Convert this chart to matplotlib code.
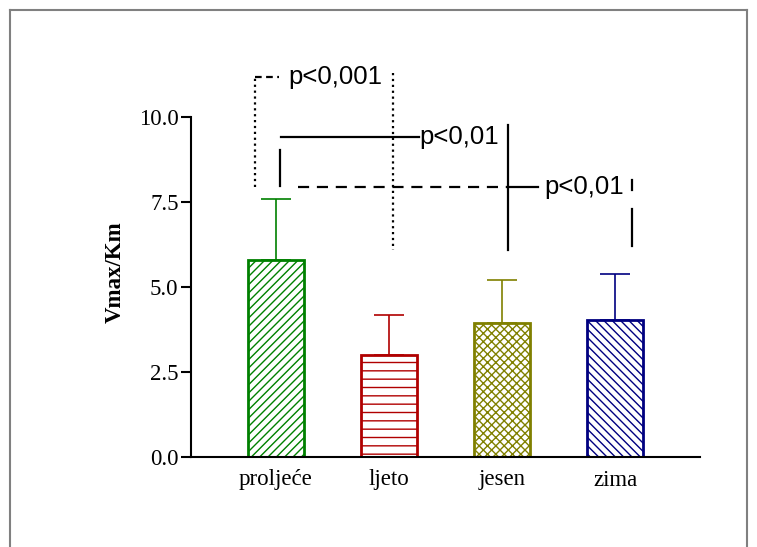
import matplotlib
matplotlib.use("Agg")
import matplotlib.pyplot as plt
from matplotlib.lines import Line2D

categories = ["proljeće", "ljeto", "jesen", "zima"]
means = [5.79, 3.0, 3.95, 4.03]
sd = [1.80, 1.18, 1.27, 1.35]
colors = ["#008000", "#b00000", "#808000", "#000080"]
hatches = ["////", "--", "xxxx", "\\\\\\\\"]
yticks = [0.0, 2.5, 5.0, 7.5, 10.0]
ytick_labels = ["0.0", "2.5", "5.0", "7.5", "10.0"]
ylabel = "Vmax/Km"
p_labels = ["p<0,001", "p<0,01", "p<0,01"]

plt.rcParams["hatch.linewidth"] = 1.0
fig = plt.figure(figsize=(7.57, 5.47), dpi=100)
ax = fig.add_axes([191/757, 90/547, (700-191)/757, 340/547])

x = list(range(len(categories)))
for i in x:
    plt.rcParams["hatch.color"] = colors[i]
    ax.bar(i, means[i], width=0.5, color="white", edgecolor=colors[i],
           hatch=hatches[i], linewidth=2, zorder=2)
    ax.errorbar(i, means[i], yerr=[[0], [sd[i]]], color=colors[i],
                capsize=10.5, elinewidth=1.2, capthick=1.2, zorder=1)

ax.set_xlim(-0.75, 3.75)
ax.set_ylim(0, 10)
ax.set_xticks(x)
ax.set_xticklabels(categories, fontsize=16.5, family="Liberation Serif")
ax.set_yticks(yticks)
ax.set_yticklabels(ytick_labels, fontsize=16.5, family="Liberation Serif")
ax.tick_params(axis="x", length=0, pad=9)
ax.tick_params(axis="y", length=7, width=1.5, pad=2)
for s in ["top", "right"]:
    ax.spines[s].set_visible(False)
ax.spines["left"].set_linewidth(1.5)
ax.spines["bottom"].set_linewidth(1.5)
ax.set_ylabel(ylabel, fontsize=16.5, family="Liberation Serif", fontweight="bold")
ax.yaxis.set_label_coords(-0.128, 0.545)

kw = dict(color="black", lw=1.6, clip_on=False)
# p<0,001 dotted bracket
ax.plot([-0.18, -0.18], [7.94, 11.18], ls=":", **kw)
ax.plot([-0.18, 0.03], [11.18, 11.18], ls=(0, (3, 2)), **kw)
ax.text(0.11, 11.18, p_labels[0], fontsize=18.5, family="Liberation Sans", va="center", ha="left")
ax.plot([1.04, 1.04], [11.3, 6.1], ls=":", **kw)
# p<0,01 solid bracket
ax.plot([0.04, 0.04], [7.97, 9.03], ls="-", **kw)
ax.plot([0.05, 1.27], [9.41, 9.41], ls="-", **kw)
ax.text(1.27, 9.41, p_labels[1], fontsize=18.5, family="Liberation Sans", va="center", ha="left")
ax.plot([2.05, 2.05], [9.76, 6.1], ls="-", **kw)
# p<0,01 dashed bracket
ax.plot([0.2, 2.05], [7.94, 7.94], ls=(0, (5, 3.5)), **kw)
ax.plot([2.05, 2.32], [7.94, 7.94], ls="-", **kw)
ax.text(2.37, 7.94, p_labels[2], fontsize=18.5, family="Liberation Sans", va="center", ha="left")
ax.plot([3.15, 3.15], [8.15, 7.85], ls="-", **kw)
ax.plot([3.15, 3.15], [7.3, 6.2], ls="-", **kw)

# outer frame
fc = "#808080"
fig.add_artist(Line2D([10/757, 10/757], [0, 1-10/547], transform=fig.transFigure, color=fc, lw=1.5))
fig.add_artist(Line2D([10/757, 747/757], [1-10/547, 1-10/547], transform=fig.transFigure, color=fc, lw=1.5))
fig.add_artist(Line2D([747/757, 747/757], [0, 1-10/547], transform=fig.transFigure, color=fc, lw=1.5))

fig.savefig("out.png", dpi=100)
